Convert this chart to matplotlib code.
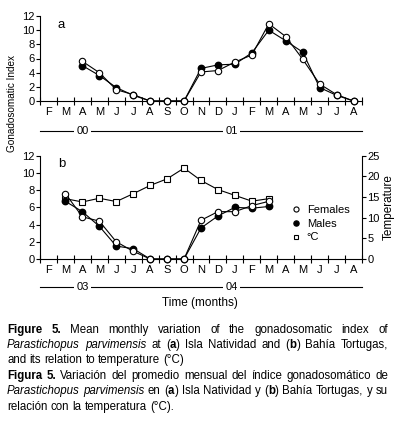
import numpy as np
import matplotlib
matplotlib.use("Agg")
import matplotlib.pyplot as plt
import matplotlib.transforms as mtransforms

plt.rcParams['font.family'] = ['Liberation Sans Narrow', 'Liberation Sans', 'DejaVu Sans']

# 月ラベル（両パネル共通）
months = ["F", "M", "A", "M", "J", "J", "A", "S", "O", "N", "D",
          "J", "F", "M", "A", "M", "J", "J", "A"]

# パネル a: Isla Natividad (A 00 - A 01)
a_start = 2
a_females = [5.6, 4.0, 1.6, 0.9, 0.0, 0.0, 0.0, 4.1, 4.3, 5.5, 6.5, 10.9, 9.1, 5.9, 2.4, 0.9, 0.0]
a_males = [5.0, 3.6, 1.9, 0.8, 0.0, 0.0, 0.0, 4.6, 5.1, 5.2, 6.8, 10.0, 8.5, 6.9, 1.9, 0.8, 0.0]
a_years = ["00", "01"]

# パネル b: Bahía Tortugas (M 03 - M 04)
b_start = 1
b_females = [7.6, 4.9, 4.4, 2.0, 0.9, 0.0, 0.0, 0.0, 4.5, 5.5, 5.5, 6.2, 6.7]
b_males = [6.7, 5.5, 3.8, 1.5, 1.2, 0.0, 0.0, 0.0, 3.6, 5.0, 6.0, 5.9, 6.1]
b_temp = [14.6, 13.8, 14.7, 13.9, 15.8, 17.8, 19.4, 22.0, 19.0, 16.8, 15.4, 14.0, 14.6]
b_years = ["03", "04"]
year_label_x = [2.5, 11.3]

W, H = 397, 422
fig = plt.figure(figsize=(W / 100, H / 100), dpi=100)


def box(x0, y0, x1, y1):
    # ピクセル -> figure 座標
    return [x0 / W, 1 - y1 / H, (x1 - x0) / W, (y1 - y0) / H]


def setup(ax, years, yl):
    n = len(months)
    ax.set_xlim(0, n)
    ax.set_ylim(0, 12)
    ax.set_yticks(range(0, 13, 2))
    ax.spines["top"].set_visible(False)
    ax.spines["right"].set_visible(False)
    for s in ["left", "bottom"]:
        ax.spines[s].set_linewidth(0.8)
    ax.set_xticks(range(n + 1))
    ax.set_xticklabels([])
    ax.set_xticks(np.arange(n) + 0.5, minor=True)
    ax.set_xticklabels(months, minor=True)
    ax.tick_params(axis="x", which="major", direction="inout", length=6, width=0.8)
    ax.tick_params(axis="x", which="minor", length=0, pad=4, labelsize=8)
    ax.tick_params(axis="y", direction="out", length=3, width=0.8, pad=1, labelsize=8)
    ax.patch.set_visible(False)
    # 年ライン
    tr = mtransforms.blended_transform_factory(ax.transData, ax.transAxes)
    ax.plot([0, n], [yl, yl], color="black", lw=0.8, transform=tr, clip_on=False)
    for x, yr in zip(year_label_x, years):
        ax.text(x, yl, yr, transform=tr, ha="center", va="center", fontsize=8,
                bbox=dict(facecolor="white", edgecolor="none", pad=1.5))


ms = 4.6
ax_a = fig.add_axes(box(40, 16, 362, 101))
xa = np.arange(len(a_females)) + a_start + 0.5
ax_a.plot(xa, a_males, "-o", color="black", mfc="black", ms=ms, lw=0.8, clip_on=False, zorder=3)
ax_a.plot(xa, a_females, "-o", color="black", mfc="white", ms=ms, lw=0.8, mew=0.8, clip_on=False, zorder=4)
setup(ax_a, a_years, -0.35)
ax_a.text(0.055, 0.97, "a", transform=ax_a.transAxes, fontsize=9.5, ha="left", va="top")

ax_b = fig.add_axes(box(40, 155.7, 362, 259))
xb = np.arange(len(b_females)) + b_start + 0.5
ax_t = ax_b.twinx()
ax_t.set_ylim(0, 25)
ax_t.set_yticks(range(0, 26, 5))
lt, = ax_t.plot(xb, b_temp, "-s", color="black", mfc="white", ms=ms - 0.4, lw=0.8, mew=0.8, clip_on=False)
for s in ["top", "left", "bottom"]:
    ax_t.spines[s].set_visible(False)
ax_t.spines["right"].set_linewidth(0.8)
ax_t.tick_params(axis="y", direction="out", length=3, width=0.8, pad=1, labelsize=8)
ax_t.set_ylabel("Temperature", fontsize=8.5, labelpad=2)
ax_b.set_zorder(ax_t.get_zorder() + 1)
lf, = ax_b.plot(xb, b_females, "-o", color="black", mfc="white", ms=ms, lw=0.8, mew=0.8, clip_on=False, zorder=4)
lm, = ax_b.plot(xb, b_males, "-o", color="black", mfc="black", ms=ms, lw=0.8, clip_on=False, zorder=3)
setup(ax_b, b_years, -0.275)
ax_b.text(0.055, 0.98, "b", transform=ax_b.transAxes, fontsize=9.5, ha="left", va="top")
leg = ax_b.legend([lf, lm, lt], ["Females", "Males", "°C"], loc="upper left",
                  bbox_to_anchor=(0.77, 0.58), frameon=False, fontsize=8,
                  handlelength=0.5, handletextpad=0.7, labelspacing=0.35, borderpad=0,
                  markerscale=0.8)
for h in leg.legend_handles:
    h.set_linestyle("none")

fig.text(200 / W, 1 - 303 / H, "Time (months)", ha="center", va="center", fontsize=8.5)
fig.text(12 / W, 1 - 103 / H, "Gonadosomatic Index", ha="center", va="center",
         rotation=90, fontsize=7.2)

# キャプション（両端揃え）
B, I, R = "bold", "italic", "normal"
cap = [
    ([[("Figure", B)], [("5.", B)], [("Mean", R)], [("monthly", R)], [("variation", R)], [("of", R)],
      [("the", R)], [("gonadosomatic", R)], [("index", R)], [("of", R)]], True),
    ([[("Parastichopus", I)], [("parvimensis", I)], [("at", R)], [("(", R), ("a", B), (")", R)],
      [("Isla", R)], [("Natividad", R)], [("and", R)], [("(", R), ("b", B), (")", R)],
      [("Bahía", R)], [("Tortugas,", R)]], True),
    ([[(w, R)] for w in "and its relation to temperature (°C)".split()], False),
    ([[("Figura", B)], [("5.", B)]] + [[(w, R)] for w in
      "Variación del promedio mensual del índice gonadosomático de".split()], True),
    ([[("Parastichopus", I)], [("parvimensis", I)], [("en", R)], [("(", R), ("a", B), (")", R)],
      [("Isla", R)], [("Natividad", R)], [("y", R)], [("(", R), ("b", B), (")", R)],
      [("Bahía", R)], [("Tortugas,", R)], [("y", R)], [("su", R)]], True),
    ([[(w, R)] for w in "relación con la temperatura (°C).".split()], False),
]
cap_y = [330, 345, 360, 376, 391, 407]
x_left, x_right = 7, 388
renderer = fig.canvas.get_renderer()


def style_kw(st, fs):
    kw = dict(fontsize=fs, va="center", ha="left")
    if st == B:
        kw["fontweight"] = "bold"
    elif st == I:
        kw["fontstyle"] = "italic"
    return kw


def measure(fs):
    t = fig.text(0, 0, "a b", fontsize=fs, transform=None)
    u = fig.text(0, 0, "a", fontsize=fs, transform=None)
    sw = t.get_window_extent(renderer).width - 2 * u.get_window_extent(renderer).width
    t.remove()
    u.remove()
    need = 0
    for words, just in cap:
        tot = 0
        for word in words:
            for txt, st in word:
                q = fig.text(0, 0, txt, transform=None, **style_kw(st, fs))
                tot += q.get_window_extent(renderer).width
                q.remove()
        need = max(need, tot + (len(words) - 1) * sw * 1.0)
    return sw, need


fs = 9.0
sw, need = measure(fs)
if need > x_right - x_left:
    fs = fs * (x_right - x_left) / need
    sw, need = measure(fs)

for (words, just), yp in zip(cap, cap_y):
    y = H - yp
    items = []
    total = 0
    for word in words:
        segs = []
        for txt, st in word:
            t = fig.text(0, y, txt, transform=None, **style_kw(st, fs))
            segs.append((t, t.get_window_extent(renderer).width))
        wsum = sum(w for _, w in segs)
        items.append((segs, wsum))
        total += wsum
    gap = (x_right - x_left - total) / (len(items) - 1) if just else sw
    x = x_left
    for segs, wsum in items:
        for t, w in segs:
            t.set_x(x)
            x += w
        x += gap

fig.savefig("out.png", dpi=100)
